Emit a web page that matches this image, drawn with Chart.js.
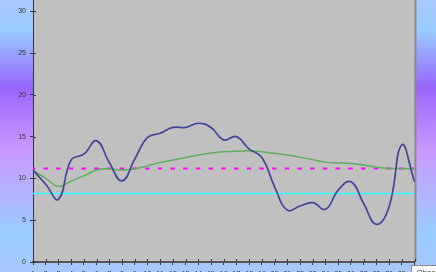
<!DOCTYPE html>
<html>
<head>
<meta charset="utf-8">
<script src="https://cdn.jsdelivr.net/npm/chart.js@4/dist/chart.umd.min.js"></script>
<style>
  html, body {
    margin: 0;
    padding: 0;
    overflow: hidden;
    width: 436px;
    height: 272px;
    background: linear-gradient(to bottom, #acc9ff 0%, #99ccff 11%, #9966ff 32%, #c99bff 56%, #99ccff 86%, #a8c8ff 100%);
  }
  canvas { display: block; }
</style>
</head>
<body>
<canvas id="chart" width="436" height="272"></canvas>
<script>
// Datos
const dayLabels = ["1", "2", "3", "4", "5", "6", "7", "8", "9", "10", "11", "12", "13", "14", "15", "16",
  "17", "18", "19", "20", "21", "22", "23", "24", "25", "26", "27", "28", "29", "30", "31"];
const observed = [11.0, 9.3, 7.5, 12.2, 12.9, 14.5, 11.9, 9.7, 12.3, 14.9, 15.4, 16.1, 16.1, 16.6, 16.1, 14.6,
  15.0, 13.5, 12.5, 9.0, 6.2, 6.7, 7.1, 6.3, 8.6, 9.6, 7.0, 4.5, 6.6, 14.0, 9.6];
const runningAverage = [11.0, 10.0, 9.05, 9.7, 10.3, 11.0, 11.15, 11.0, 11.15, 11.5, 11.9, 12.2, 12.5, 12.8, 13.05, 13.2,
  13.25, 13.3, 13.2, 13.0, 12.8, 12.55, 12.25, 11.95, 11.85, 11.8, 11.6, 11.35, 11.2, 11.2, 11.15];
const averageValue = 11.2;
const lowerValue = 8.2;
const yTicks = [0, 5, 10, 15, 20, 25, 30];
const legendText = "Observed";

const labelFont = { family: "'Liberation Sans', Arial, sans-serif", size: 7 };

// Fondo gris del área de trazado y marca de la leyenda
const plotAreaPlugin = {
  id: "plotArea",
  beforeDraw(chart) {
    const { ctx, chartArea } = chart;
    ctx.save();
    ctx.fillStyle = "#c0c0c0";
    ctx.fillRect(chartArea.left, chartArea.top, chartArea.right - chartArea.left, chartArea.bottom - chartArea.top);
    ctx.strokeStyle = "#8c8c8c";
    ctx.lineWidth = 2;
    ctx.beginPath();
    ctx.moveTo(chartArea.right + 1, chartArea.top);
    ctx.lineTo(chartArea.right + 1, chartArea.bottom);
    ctx.stroke();
    ctx.restore();
  },
  afterDraw(chart) {
    const { ctx, chartArea, scales } = chart;
    ctx.save();
    // marcas que cruzan los ejes
    ctx.strokeStyle = "#333";
    ctx.lineWidth = 1;
    ctx.beginPath();
    scales.x.ticks.forEach((t, i) => {
      const x = Math.round(scales.x.getPixelForTick(i)) + 0.5;
      ctx.moveTo(x, chartArea.bottom - 3);
      ctx.lineTo(x, chartArea.bottom);
    });
    scales.y.ticks.forEach((t) => {
      const y = Math.round(scales.y.getPixelForValue(t.value)) + 0.5;
      ctx.moveTo(chartArea.left, y);
      ctx.lineTo(chartArea.left + 3, y);
    });
    ctx.stroke();
    // leyenda (cortada por el borde)
    const bx = Math.round(chartArea.right) - 3.5;
    const by = Math.round(chartArea.bottom) + 3.5;
    ctx.fillStyle = "#ffffff";
    ctx.fillRect(bx, by, 60, 20);
    ctx.strokeStyle = "#8a8a8a";
    ctx.strokeRect(bx, by, 60, 20);
    ctx.fillStyle = "#333";
    ctx.font = "8px 'Liberation Sans', Arial, sans-serif";
    ctx.textBaseline = "top";
    ctx.fillText(legendText, bx + 5, by + 3);
    ctx.restore();
  },
};

const ctx = document.getElementById("chart").getContext("2d");

new Chart(ctx, {
  type: "line",
  data: {
    labels: dayLabels,
    datasets: [
      {
        label: "Observed",
        data: observed,
        borderColor: "#44449c",
        borderWidth: 1.7,
        tension: 0.45,
        pointRadius: 0,
        fill: false,
      },
      {
        label: "Running average",
        data: runningAverage,
        borderColor: "#5cad5c",
        borderWidth: 1.5,
        tension: 0.45,
        pointRadius: 0,
        fill: false,
      },
      {
        label: "Average",
        data: dayLabels.map(() => averageValue),
        borderColor: "#ff00ff",
        borderWidth: 2,
        borderDash: [4.5, 8.2],
        borderDashOffset: 2.25,
        pointRadius: 0,
        fill: false,
      },
      {
        label: "Lower",
        data: dayLabels.map(() => lowerValue),
        borderColor: "#33ffff",
        borderWidth: 1.4,
        pointRadius: 0,
        fill: false,
      },
    ],
  },
  options: {
    responsive: false,
    animation: false,
    devicePixelRatio: 1,
    layout: { padding: { left: 0, right: 21.5, top: 0, bottom: 0 } },
    plugins: {
      legend: { display: false },
      tooltip: { enabled: false },
    },
    scales: {
      x: {
        offset: false,
        grid: { drawOnChartArea: false, tickLength: 3, color: "#333" },
        border: { color: "#555", width: 2 },
        ticks: { font: labelFont, color: "#333", padding: 5, maxRotation: 0, autoSkip: false },
        afterFit(scale) {
          scale.height = 10;
          scale.paddingLeft = 0;
          scale.paddingRight = 0;
        },
      },
      y: {
        min: 0,
        max: 31.35,
        grid: { drawOnChartArea: false, tickLength: 3, color: "#333" },
        border: { color: "#333", width: 1 },
        ticks: { font: labelFont, color: "#333", padding: 4 },
        afterBuildTicks(scale) {
          scale.ticks = yTicks.map((v) => ({ value: v }));
        },
        afterFit(scale) {
          scale.width = 33;
          scale.paddingTop = 0;
          scale.paddingBottom = 0;
        },
      },
    },
  },
  plugins: [plotAreaPlugin],
});
</script>
</body>
</html>
